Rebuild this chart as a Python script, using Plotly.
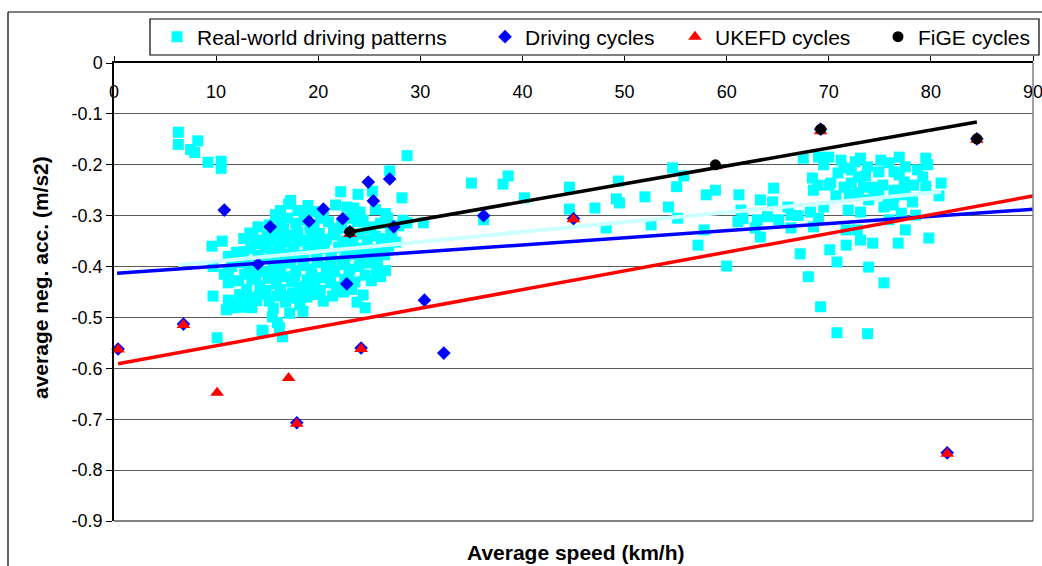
import plotly.graph_objects as go

# ---------------------------------------------------------------------------
# Data: average speed (km/h) vs. average negative acceleration (m/s2)
# ---------------------------------------------------------------------------
real_world = [
    (6.3, -0.136), (6.3, -0.160), (8.2, -0.153), (7.5, -0.170), (7.9, -0.176),
    (9.2, -0.195), (10.5, -0.193), (10.5, -0.207),
    (17.3, -0.270), (17.1, -0.277), (22.2, -0.253), (23.9, -0.258), (25.3, -0.252),
    (28.2, -0.265), (27.0, -0.212), (28.7, -0.182),
    (15.8, -0.298), (21.7, -0.279), (22.8, -0.283), (16.3, -0.290), (18.6, -0.300),
    (19.6, -0.292), (20.5, -0.297), (24.1, -0.293), (25.6, -0.288), (26.6, -0.296),
    (14.1, -0.322), (15.2, -0.318), (16.3, -0.312), (17.0, -0.305), (17.8, -0.315),
    (18.7, -0.308), (19.6, -0.318), (20.2, -0.305), (21.0, -0.312), (21.5, -0.325),
    (22.3, -0.318), (23.0, -0.305), (23.8, -0.312), (24.4, -0.309), (25.2, -0.322),
    (26.1, -0.315), (27.1, -0.334), (28.3, -0.309), (26.8, -0.305), (13.3, -0.334),
    (12.7, -0.345), (13.6, -0.338), (14.3, -0.348), (15.0, -0.340), (15.7, -0.333),
    (16.4, -0.345), (17.2, -0.338), (18.0, -0.332), (18.6, -0.348), (19.4, -0.340),
    (20.1, -0.335), (20.8, -0.346), (21.6, -0.338), (22.4, -0.350), (23.2, -0.343),
    (24.0, -0.336), (24.8, -0.348), (25.6, -0.340), (26.4, -0.345), (27.2, -0.338),
    (16.8, -0.352), (19.9, -0.354),
    (9.6, -0.360), (10.6, -0.350), (12.0, -0.372), (12.7, -0.371), (13.4, -0.365),
    (14.1, -0.378), (14.8, -0.362), (15.5, -0.372), (16.2, -0.360), (16.9, -0.375),
    (17.6, -0.366), (18.3, -0.378), (19.0, -0.362), (19.8, -0.372), (20.5, -0.365),
    (21.3, -0.377), (22.0, -0.362), (22.8, -0.370), (23.6, -0.376), (24.3, -0.364),
    (25.1, -0.372), (25.9, -0.366), (26.5, -0.377), (11.2, -0.380),
    (9.7, -0.400), (11.5, -0.400), (12.3, -0.392), (13.2, -0.405), (14.0, -0.398),
    (14.8, -0.410), (15.6, -0.395), (16.3, -0.404), (17.0, -0.393), (17.8, -0.408),
    (18.5, -0.398), (19.3, -0.405), (20.0, -0.392), (20.8, -0.402), (21.6, -0.410),
    (22.3, -0.396), (23.1, -0.405), (24.9, -0.393), (24.0, -0.400), (25.8, -0.398),
    (26.6, -0.408), (11.2, -0.410), (10.8, -0.415),
    (11.2, -0.432), (12.2, -0.428), (12.8, -0.415), (13.5, -0.425), (14.3, -0.438),
    (15.1, -0.423), (15.9, -0.434), (16.6, -0.420), (17.4, -0.430), (18.2, -0.440),
    (18.9, -0.426), (19.7, -0.436), (20.4, -0.422), (21.2, -0.432), (22.0, -0.440),
    (22.6, -0.425), (23.6, -0.430), (24.6, -0.417), (25.2, -0.428), (26.1, -0.420),
    (16.3, -0.445), (19.0, -0.442),
    (9.7, -0.458), (11.2, -0.466), (12.2, -0.472), (11.7, -0.481), (13.3, -0.460),
    (13.5, -0.481), (14.3, -0.455), (15.2, -0.468), (16.0, -0.458), (16.8, -0.470),
    (17.5, -0.452), (18.2, -0.475), (18.9, -0.460), (19.7, -0.455), (20.5, -0.468),
    (21.4, -0.458), (22.5, -0.450), (24.4, -0.456), (24.6, -0.481), (23.8, -0.470),
    (12.5, -0.480), (11.0, -0.485),
    (15.5, -0.499), (14.5, -0.525), (14.6, -0.528), (16.5, -0.538), (16.0, -0.510),
    (17.2, -0.492), (10.1, -0.540), (18.5, -0.488), (16.2, -0.520),
    (13.8, -0.355), (14.6, -0.385), (15.3, -0.350), (15.9, -0.382), (16.6, -0.327),
    (17.3, -0.388), (17.9, -0.350), (18.6, -0.387), (19.2, -0.325), (19.9, -0.386),
    (20.6, -0.352), (21.2, -0.388), (21.9, -0.326), (22.6, -0.385), (23.4, -0.357),
    (24.1, -0.383), (24.8, -0.326), (25.5, -0.384), (26.2, -0.355), (14.9, -0.447),
    (15.7, -0.415), (16.9, -0.458), (17.7, -0.418), (18.6, -0.455), (19.4, -0.416),
    (20.2, -0.447), (21.0, -0.416), (21.8, -0.450), (23.0, -0.418), (23.3, -0.445),
    (13.0, -0.445), (12.3, -0.455), (14.0, -0.467), (15.6, -0.482), (17.9, -0.462),
    (13.9, -0.418), (12.9, -0.392), (25.7, -0.415), (26.9, -0.360), (27.6, -0.352),
    (27.9, -0.320), (18.0, -0.290), (19.0, -0.280), (23.5, -0.285),
    (28.7, -0.314), (30.3, -0.314), (35.0, -0.236), (36.2, -0.308), (38.1, -0.238),
    (38.6, -0.222), (40.2, -0.265), (44.6, -0.244), (44.6, -0.287), (47.1, -0.285),
    (48.2, -0.324), (49.4, -0.232), (49.2, -0.267), (49.5, -0.275), (52.0, -0.263),
    (52.6, -0.318), (54.3, -0.283), (54.7, -0.206), (55.8, -0.222), (55.1, -0.243),
    (55.2, -0.305), (57.2, -0.358), (57.8, -0.328), (58.0, -0.259), (58.9, -0.250),
    (60.0, -0.399),
    (61.2, -0.259), (61.4, -0.289), (61.1, -0.312), (61.6, -0.306), (63.0, -0.308),
    (63.3, -0.269), (64.0, -0.302), (62.8, -0.324), (63.3, -0.342), (64.6, -0.246),
    (64.5, -0.273), (65.1, -0.308), (66.0, -0.283), (66.3, -0.299), (67.0, -0.300),
    (66.3, -0.324), (67.5, -0.187), (67.2, -0.375), (68.0, -0.420),
    (68.4, -0.226), (68.5, -0.250), (68.2, -0.293), (68.5, -0.322), (69.0, -0.185),
    (70.0, -0.185), (69.5, -0.200), (70.0, -0.240), (70.9, -0.216), (71.5, -0.206),
    (72.6, -0.194), (72.2, -0.210), (73.8, -0.204), (73.6, -0.222), (74.9, -0.214),
    (75.9, -0.196), (76.9, -0.185), (76.4, -0.214), (76.9, -0.220), (79.5, -0.187),
    (79.7, -0.200), (79.2, -0.224), (81.0, -0.236), (80.8, -0.261), (79.5, -0.242),
    (78.3, -0.240), (77.4, -0.234), (77.3, -0.250), (76.4, -0.250), (75.3, -0.240),
    (74.3, -0.244), (73.4, -0.244), (72.2, -0.236), (71.5, -0.244), (70.2, -0.236),
    (68.9, -0.240), (72.9, -0.255), (72.0, -0.258), (74.4, -0.259), (76.4, -0.262),
    (75.8, -0.275), (75.4, -0.283), (78.2, -0.273), (71.9, -0.289), (73.1, -0.293),
    (69.5, -0.283), (69.0, -0.305), (76.3, -0.279), (77.1, -0.295), (78.5, -0.299),
    (75.9, -0.308), (71.7, -0.328), (72.8, -0.328), (73.1, -0.348), (71.7, -0.358),
    (74.3, -0.354), (76.8, -0.354), (77.5, -0.328), (79.8, -0.344), (70.1, -0.367),
    (70.8, -0.391), (73.9, -0.401), (75.4, -0.432), (69.2, -0.479), (70.8, -0.530),
    (73.8, -0.532), (71.2, -0.191), (73.1, -0.187), (75.1, -0.191), (77.5, -0.204),
    (78.7, -0.210), (70.7, -0.261), (77.5, -0.259), (73.9, -0.269), (74.9, -0.250),
    (72.9, -0.224),
]

driving_cycles = [
    (0.4, -0.562), (6.8, -0.513), (10.8, -0.289), (14.1, -0.395), (15.3, -0.322),
    (19.1, -0.311), (20.5, -0.287), (22.4, -0.306), (22.8, -0.434), (23.1, -0.332),
    (24.2, -0.560), (24.9, -0.234), (25.4, -0.271), (27.0, -0.228), (27.4, -0.322),
    (17.9, -0.707), (30.4, -0.466), (32.3, -0.570), (36.2, -0.300), (45.0, -0.306),
    (69.2, -0.130), (84.5, -0.149), (81.6, -0.766),
]

ukefd_cycles = [
    (0.4, -0.563), (6.8, -0.515), (10.1, -0.648), (17.1, -0.619), (17.9, -0.709),
    (24.2, -0.562), (23.1, -0.336), (45.0, -0.307), (58.9, -0.203), (69.2, -0.134),
    (84.5, -0.151), (81.6, -0.768),
]

fige_cycles = [(23.1, -0.332), (58.9, -0.200), (69.2, -0.130), (84.5, -0.149)]

# Linear trend lines: (slope, intercept, x start, x end)
trend_real_world = (0.00193, -0.4092, 6.3, 81.0)
trend_driving = (0.00140, -0.4134, 0.3, 90.0)
trend_ukefd = (0.00368, -0.5925, 0.4, 90.0)
trend_fige = (0.003518, -0.4133, 23.1, 84.5)

x_ticks = [0, 10, 20, 30, 40, 50, 60, 70, 80, 90]
y_ticks = [0, -0.1, -0.2, -0.3, -0.4, -0.5, -0.6, -0.7, -0.8, -0.9]
y_tick_text = ["0", "-0.1", "-0.2", "-0.3", "-0.4", "-0.5", "-0.6", "-0.7", "-0.8", "-0.9"]

# ---------------------------------------------------------------------------
# Page geometry (pixels) used to place the plot area, legend box and frame
# ---------------------------------------------------------------------------
W, H = 1042, 566
PL, PR, PT, PB = 114, 1033, 63, 521
FONT = "Liberation Sans, Arial, sans-serif"


def paper_x(px):
    return (px - PL) / (PR - PL)


def paper_y(py):
    return (PB - py) / (PB - PT)


def unzip(pairs):
    return [p[0] for p in pairs], [p[1] for p in pairs]


def trend_xy(trend):
    slope, intercept, x0, x1 = trend
    return [x0, x1], [intercept + slope * x0, intercept + slope * x1]


fig = go.Figure()

series = [
    ("Real-world driving patterns", real_world, "square", 11, "#00FFFF", "legend"),
    ("Driving cycles", driving_cycles, "diamond", 10.5, "#0000FF", "legend2"),
    ("UKEFD cycles", ukefd_cycles, "triangle-up", 12, "#FF0000", "legend3"),
    ("FiGE cycles", fige_cycles, "circle", 11, "#000000", "legend4"),
]
for name, pts, symbol, size, color, legend in series:
    xs, ys = unzip(pts)
    fig.add_trace(go.Scatter(
        x=xs, y=ys, mode="markers", name=name, legend=legend,
        marker=dict(symbol=symbol, size=size, color=color, line=dict(width=0)),
        cliponaxis=False,
    ))

for trend, color, width in [
    (trend_real_world, "#CCFFFF", 4),
    (trend_driving, "#0000FF", 3.5),
    (trend_ukefd, "#FF0000", 3.5),
    (trend_fige, "#000000", 3.5),
]:
    tx, ty = trend_xy(trend)
    fig.add_trace(go.Scatter(x=tx, y=ty, mode="lines", showlegend=False,
                             line=dict(color=color, width=width), hoverinfo="skip"))

# carrier for the tick-label axis that sits just under the top axis line
fig.add_trace(go.Scatter(x=[], y=[], xaxis="x2", showlegend=False))

legend_common = dict(
    orientation="h", yanchor="middle", xanchor="left", y=paper_y(37),
    bgcolor="rgba(0,0,0,0)", borderwidth=0,
    font=dict(family=FONT, size=21, color="black"),
)

fig.update_layout(
    width=W, height=H,
    margin=dict(l=PL, r=W - PR, t=PT, b=H - PB, pad=0, autoexpand=False),
    paper_bgcolor="white", plot_bgcolor="white",
    font=dict(family=FONT, size=18, color="black"),
    xaxis=dict(
        range=[0, 90], side="top", showline=True, linecolor="black", linewidth=1.5,
        ticks="outside", ticklen=5, tickwidth=1, tickcolor="black", tickvals=x_ticks,
        showticklabels=False, showgrid=False, zeroline=False, automargin=False,
    ),
    xaxis2=dict(
        range=[0, 90], overlaying="x", anchor="free", position=1, side="bottom",
        showline=False, ticks="", tickvals=x_ticks, ticktext=[str(v) for v in x_ticks],
        tickfont=dict(family=FONT, size=18, color="black"), ticklabelstandoff=16,
        ticklabeloverflow="allow", showgrid=False, zeroline=False, automargin=False,
    ),
    yaxis=dict(
        range=[-0.9, 0], tickvals=y_ticks, ticktext=y_tick_text,
        ticks="outside", ticklen=6, tickwidth=1, tickcolor="black",
        showline=True, linecolor="black", linewidth=1.5,
        showgrid=True, gridcolor="#5a5a5a", gridwidth=1, zeroline=False,
        tickfont=dict(family=FONT, size=18, color="black"), automargin=False,
    ),
    legend=dict(legend_common, x=paper_x(157)),
    legend2=dict(legend_common, x=paper_x(485)),
    legend3=dict(legend_common, x=paper_x(675)),
    legend4=dict(legend_common, x=paper_x(878)),
    showlegend=True,
)

# axis titles
fig.add_annotation(text="<b>Average speed (km/h)</b>", xref="paper", yref="paper",
                   x=paper_x(575), y=paper_y(552), xanchor="center", yanchor="middle",
                   showarrow=False, font=dict(family=FONT, size=21, color="black"))
fig.add_annotation(text="<b>average neg. acc. (m/s2)</b>", xref="paper", yref="paper",
                   x=paper_x(40), y=paper_y(278), xanchor="center", yanchor="middle",
                   textangle=-90, showarrow=False,
                   font=dict(family=FONT, size=21, color="black"))

# plot-area right and bottom edges, legend box and outer chart frame
fig.add_shape(type="line", xref="paper", yref="paper", x0=1, x1=1, y0=0, y1=1,
              line=dict(color="#808080", width=1.5))
fig.add_shape(type="line", xref="paper", yref="paper", x0=0, x1=1, y0=0, y1=0,
              line=dict(color="#5a5a5a", width=1.5))
fig.add_shape(type="rect", xref="paper", yref="paper",
              x0=paper_x(150), x1=paper_x(1039), y0=paper_y(55), y1=paper_y(19),
              line=dict(color="black", width=1.2))
fig.add_shape(type="line", xref="paper", yref="paper",
              x0=paper_x(8), x1=paper_x(8), y0=paper_y(12), y1=paper_y(570),
              line=dict(color="black", width=1.2))
fig.add_shape(type="line", xref="paper", yref="paper",
              x0=paper_x(8), x1=paper_x(1045), y0=paper_y(12), y1=paper_y(12),
              line=dict(color="black", width=1.2))

fig.write_html("out.html")
